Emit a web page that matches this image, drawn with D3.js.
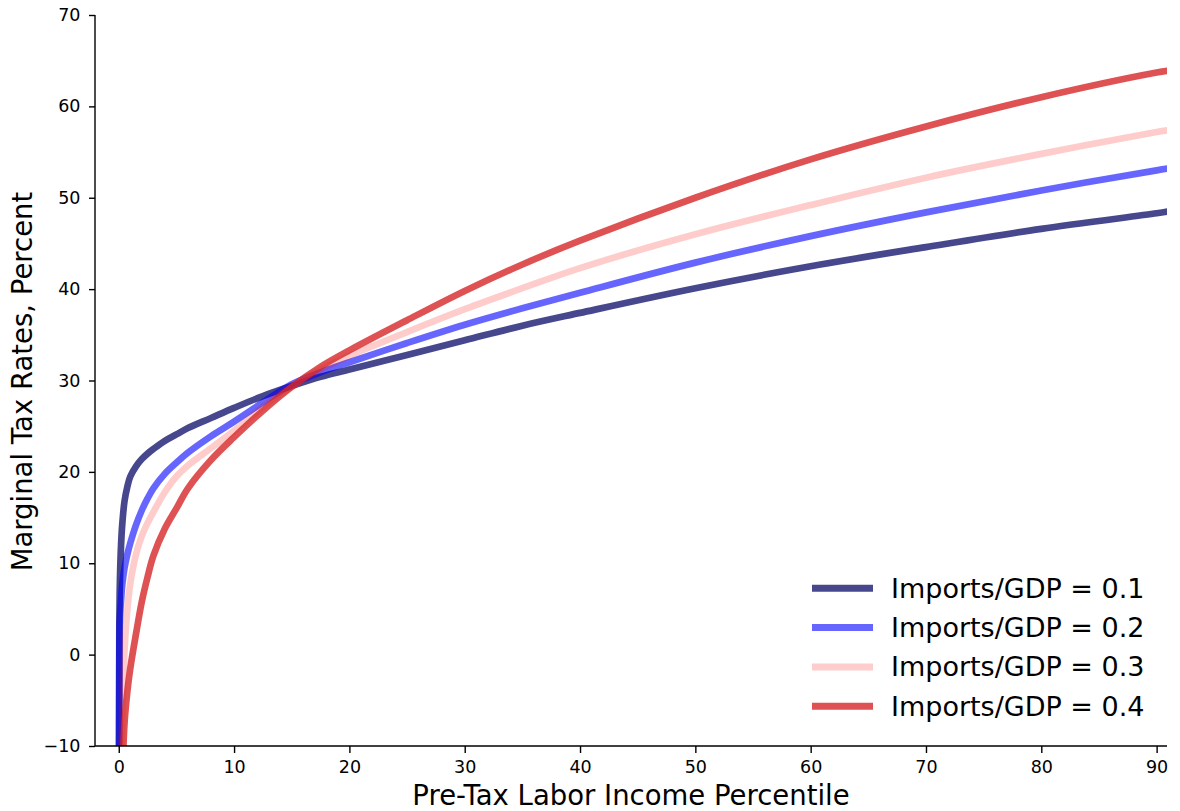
<!DOCTYPE html>
<html>
<head>
<meta charset="utf-8">
<script src="https://cdn.jsdelivr.net/npm/d3@7/dist/d3.min.js"></script>
<style>
  html, body { margin: 0; padding: 0; background: #fff; }
  svg { display: block; font-family: "DejaVu Sans", sans-serif; }
</style>
</head>
<body>
<svg id="chart" width="1180" height="811"></svg>
<script>
// ---- data ----
const percentiles = [0, 0.05, 0.1, 0.2, 0.3, 0.5, 0.75, 1, 1.5, 2, 2.5, 3, 4, 5, 6, 8, 10, 12.5, 15, 17.5, 20, 25, 30, 35, 40, 50, 60, 70, 80, 90, 91];
const rates01 = [-40, 3, 8, 12, 14.2, 16.8, 18.4, 19.5, 20.6, 21.4, 22.0, 22.5, 23.4, 24.1, 24.8, 25.9, 27.0, 28.3, 29.4, 30.4, 31.2, 32.8, 34.4, 36.0, 37.4, 40.1, 42.5, 44.6, 46.6, 48.3, 48.5];
const rates02 = [-40, 0, 4, 6.0, 7.6, 9.5, 11.0, 12.2, 14.2, 15.8, 17.1, 18.2, 19.8, 21.0, 22.1, 23.9, 25.5, 27.6, 29.6, 30.9, 32.0, 34.1, 36.1, 37.9, 39.6, 42.9, 45.8, 48.4, 50.8, 53.0, 53.2];
const rates03 = [-60, -40, -25, -14, -7.5, 0.5, 5.0, 7.8, 11.0, 13.0, 14.4, 15.6, 17.8, 19.5, 20.7, 22.6, 24.5, 27.1, 29.4, 31.2, 32.7, 35.3, 37.8, 40.1, 42.3, 46.0, 49.2, 52.2, 54.8, 57.2, 57.4];
const rates04 = [-80, -70, -55, -35, -15, -7.5, -4.0, -1.5, 2.3, 5.8, 8.5, 10.8, 13.8, 16.0, 18.2, 21.3, 23.8, 26.7, 29.3, 31.5, 33.3, 36.6, 39.8, 42.7, 45.3, 50.0, 54.2, 57.8, 61.0, 63.7, 63.9];
const seriesLabels = ["Imports/GDP = 0.1", "Imports/GDP = 0.2", "Imports/GDP = 0.3", "Imports/GDP = 0.4"];
const xTicks = [0, 10, 20, 30, 40, 50, 60, 70, 80, 90];
const yTicks = [-10, 0, 10, 20, 30, 40, 50, 60, 70];
const xLabel = "Pre-Tax Labor Income Percentile";
const yLabel = "Marginal Tax Rates, Percent";

// ---- styles ----
const colors = ["#191970", "#0000ff", "#ff0000", "#d62728"];
const opacities = [0.8, 0.6, 0.2, 0.8];

const svg = d3.select("#chart");
const pLeft = 95, pRight = 1167, pTop = 15, pBottom = 746;

const x = d3.scaleLinear().domain([-2.06, 90.9]).range([pLeft, pRight]);
const y = d3.scaleLinear().domain([-10, 70]).range([pBottom, pTop]);

svg.append("defs").append("clipPath").attr("id", "plotclip")
  .append("rect").attr("x", pLeft).attr("y", pTop).attr("width", pRight - pLeft).attr("height", pBottom - pTop);

const allSeries = [rates01, rates02, rates03, rates04];
const line = d3.line().x(d => x(d[0])).y(d => y(d[1])).curve(d3.curveCatmullRom.alpha(0.5));

const g = svg.append("g").attr("clip-path", "url(#plotclip)");
allSeries.forEach((vals, i) => {
  g.append("path")
    .datum(percentiles.map((p, j) => [p, vals[j]]))
    .attr("d", line)
    .attr("fill", "none")
    .attr("stroke", colors[i])
    .attr("stroke-opacity", opacities[i])
    .attr("stroke-width", 6.7)
    .attr("stroke-linejoin", "round");
});

// axes
const xAxis = d3.axisBottom(x).tickValues(xTicks).tickSize(7).tickPadding(7.5);
const yAxis = d3.axisLeft(y).tickValues(yTicks).tickSize(6).tickPadding(8.5);

const gx = svg.append("g").attr("transform", `translate(0,${pBottom})`).call(xAxis);
const gy = svg.append("g").attr("transform", `translate(${pLeft},0)`).call(yAxis);
[gx, gy].forEach(a => {
  a.selectAll("path.domain").attr("stroke", "#000").attr("stroke-width", 1.4);
  a.selectAll(".tick line").attr("stroke", "#000").attr("stroke-width", 1.4);
  a.selectAll(".tick text").attr("fill", "#000").style("font-size", "17.5px").style("font-family", "DejaVu Sans, sans-serif");
});
gx.select("path.domain").attr("d", `M${pLeft},0H${pRight}`);
gy.select("path.domain").attr("d", `M0,${pBottom}V${pTop}`);

svg.append("text")
  .attr("x", (pLeft + pRight) / 2).attr("y", 805)
  .attr("text-anchor", "middle")
  .style("font-size", "27.5px")
  .text(xLabel);

svg.append("text")
  .attr("transform", `translate(31.5,${381.5}) rotate(-90)`)
  .attr("text-anchor", "middle")
  .style("font-size", "27.5px")
  .text(yLabel);

// legend
const legend = svg.append("g");
seriesLabels.forEach((lab, i) => {
  const cy = 588.3 + i * 39.3;
  legend.append("line")
    .attr("x1", 812).attr("x2", 873).attr("y1", cy).attr("y2", cy)
    .attr("stroke", colors[i]).attr("stroke-opacity", opacities[i]).attr("stroke-width", 7);
  legend.append("text")
    .attr("x", 891).attr("y", cy).attr("dy", "0.35em")
    .style("font-size", "27px")
    .text(lab);
});
</script>
</body>
</html>
